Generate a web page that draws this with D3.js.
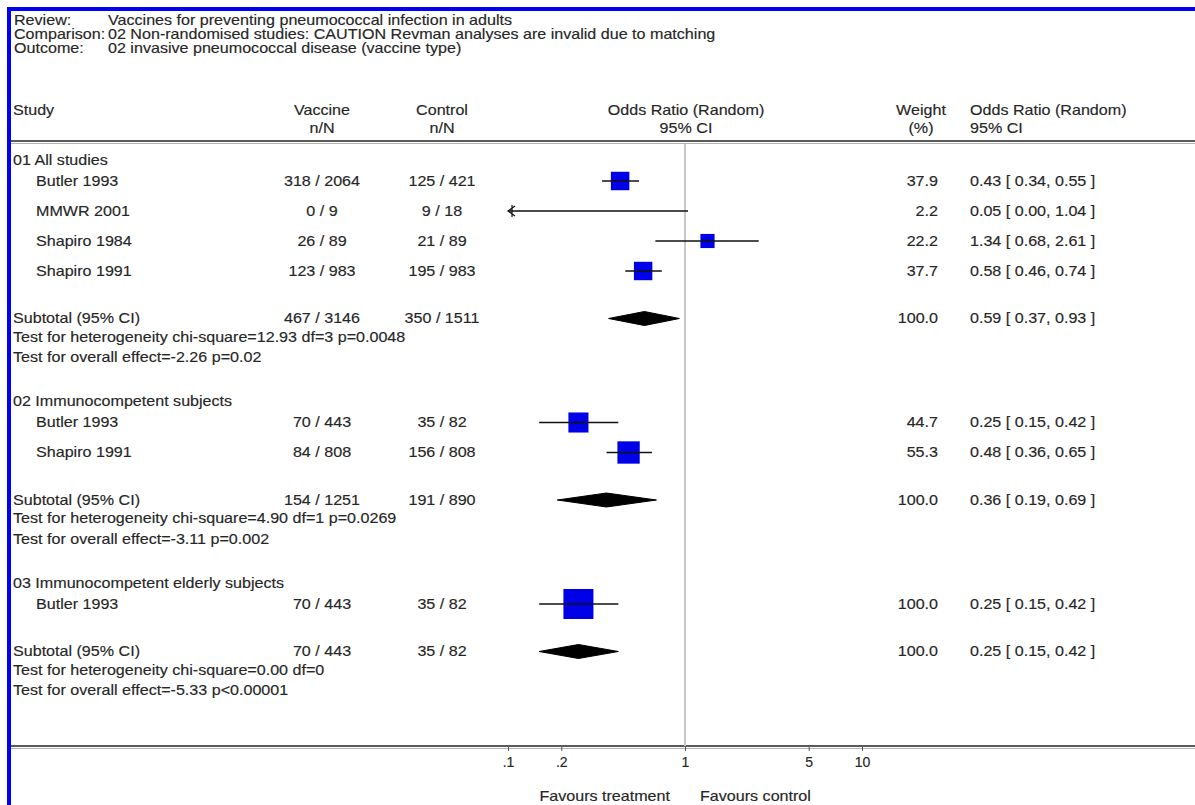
<!DOCTYPE html>
<html>
<head>
<meta charset="utf-8">
<script src="https://cdn.jsdelivr.net/npm/d3@7"></script>
<style>
  html, body { margin: 0; padding: 0; background: #fff; }
  svg text { font-family: "Liberation Sans", Arial, sans-serif; font-size: 14px; fill: #262626; stroke: #262626; stroke-width: 0.15px; }
</style>
</head>
<body>
<svg id="forest"></svg>
<script>
// review header
const headerLabels = ['Review:', 'Comparison:', 'Outcome:'];
const headerValues = [
    'Vaccines for preventing pneumococcal infection in adults',
    '02 Non-randomised studies: CAUTION Revman analyses are invalid due to matching',
    '02 invasive pneumococcal disease (vaccine type)'
];

// column headings
const columnTitles = ['Study', 'Vaccine', 'Control', 'Odds Ratio (Random)', 'Weight', 'Odds Ratio (Random)'];
const columnSubtitles = ['', 'n/N', 'n/N', '95% CI', '(%)', '95% CI'];

// subgroups
const groupNames = ['01 All studies', '02 Immunocompetent subjects', '03 Immunocompetent elderly subjects'];

// studies
const studyGroup = [0, 0, 0, 0, 1, 1, 2];
const studyNames = ['Butler 1993', 'MMWR 2001', 'Shapiro 1984', 'Shapiro 1991', 'Butler 1993', 'Shapiro 1991', 'Butler 1993'];
const vaccineEvents = [318, 0, 26, 123, 70, 84, 70];
const vaccineTotal = [2064, 9, 89, 983, 443, 808, 443];
const controlEvents = [125, 9, 21, 195, 35, 156, 35];
const controlTotal = [421, 18, 89, 983, 82, 808, 82];
const studyOR = [0.43, 0.05, 1.34, 0.58, 0.25, 0.48, 0.25];
const studyLower = [0.34, 0.00, 0.68, 0.46, 0.15, 0.36, 0.15];
const studyUpper = [0.55, 1.04, 2.61, 0.74, 0.42, 0.65, 0.42];
const studyWeight = [37.9, 2.2, 22.2, 37.7, 44.7, 55.3, 100.0];

// subtotals
const subVaccineEvents = [467, 154, 70];
const subVaccineTotal = [3146, 1251, 443];
const subControlEvents = [350, 191, 35];
const subControlTotal = [1511, 890, 82];
const subOR = [0.59, 0.36, 0.25];
const subLower = [0.37, 0.19, 0.15];
const subUpper = [0.93, 0.69, 0.42];
const subWeight = [100.0, 100.0, 100.0];
const heterogeneity = ['chi-square=12.93 df=3 p=0.0048', 'chi-square=4.90 df=1 p=0.0269', 'chi-square=0.00 df=0'];
const overallEffect = ['-2.26 p=0.02', '-3.11 p=0.002', '-5.33 p<0.00001'];

// axis
const tickValues = [0.1, 0.2, 1, 5, 10];
const tickLabels = ['.1', '.2', '1', '5', '10'];
const favoursLabels = ['Favours treatment', 'Favours control'];


class ForestPlot {

    constructor(_config) {
        this.config = {
            parentElement: _config.parentElement,
            containerWidth: 1195,
            containerHeight: 805,
            frameInset: 7,
            frameWidth: 4,
            frameColour: '#0000f2',
            textStretch: 1.15,
            cols: {
                left: 13,
                study: 36,
                vaccine: 322,
                control: 442,
                plot: 686,
                weightHead: 921,
                weightRight: 938,
                orText: 970
            },
            plotRange: [508, 862],
            headerTop: 20,
            headerStep: 14,
            titleY: 110,
            subtitleY: 128,
            tableTop: 141,
            axisY: 746,
            rows: {
                firstHead: 160,
                headToStudy: 21,
                pitch: 30,
                studyToSub: 47.5,
                subToHet: 18.5,
                hetToOverall: 20.5,
                overallToHead: 44
            },
            boxColour: '#0000e8',
            boxScale: 3,
            diamondHalf: 7
        }

        this.initVis();
    }

    // text is drawn a little wider than the font, like the old bitmap output
    label(parent, x, y, str, anchor = 'start') {
        let vis = this;
        return parent.append('text')
            .attr('transform', `translate(${x},${y}) scale(${vis.config.textStretch},1)`)
            .attr('text-anchor', anchor)
            .attr('dy', '0.35em')
            .text(str);
    }

    initVis() {
        let vis = this;
        let c = vis.config;

        vis.svg = d3.select(c.parentElement)
            .attr('width', c.containerWidth)
            .attr('height', c.containerHeight);

        vis.svg.append('rect')
            .attr('width', c.containerWidth)
            .attr('height', c.containerHeight)
            .attr('fill', '#fff');

        vis.xScale = d3.scaleLog()
            .domain([tickValues[0], tickValues[tickValues.length - 1]])
            .range(c.plotRange);

        let fmt2 = d3.format('.2f');
        let fmt1 = d3.format('.1f');

        // blue window frame (top and left only)
        vis.svg.append('rect')
            .attr('x', c.frameInset).attr('y', c.frameInset)
            .attr('width', c.containerWidth - c.frameInset)
            .attr('height', c.frameWidth)
            .attr('fill', c.frameColour);
        vis.svg.append('rect')
            .attr('x', c.frameInset).attr('y', c.frameInset)
            .attr('width', c.frameWidth)
            .attr('height', c.containerHeight - c.frameInset)
            .attr('fill', c.frameColour);

        let textG = vis.svg.append('g').attr('class', 'texts');

        // review / comparison / outcome
        headerLabels.forEach((h, i) => {
            let y = c.headerTop + i * c.headerStep;
            vis.label(textG, 14, y, h);
            vis.label(textG, 108, y, headerValues[i]);
        });

        // column headings
        let titleX = [c.cols.left, c.cols.vaccine, c.cols.control, c.cols.plot, c.cols.weightHead, c.cols.orText];
        let titleAnchor = ['start', 'middle', 'middle', 'middle', 'middle', 'start'];
        columnTitles.forEach((t, i) => {
            vis.label(textG, titleX[i], c.titleY, t, titleAnchor[i]);
            if (columnSubtitles[i]) vis.label(textG, titleX[i], c.subtitleY, columnSubtitles[i], titleAnchor[i]);
        });

        // etched separator lines
        [c.tableTop, c.axisY].forEach(y => {
            vis.svg.append('line')
                .attr('x1', c.frameInset + c.frameWidth).attr('x2', c.containerWidth)
                .attr('y1', y).attr('y2', y)
                .attr('stroke', '#5a5a5a').attr('stroke-width', 2);
            vis.svg.append('line')
                .attr('x1', c.frameInset + c.frameWidth).attr('x2', c.containerWidth)
                .attr('y1', y + 2.5).attr('y2', y + 2.5)
                .attr('stroke', '#b4b4b4').attr('stroke-width', 1);
        });

        // line of no effect
        vis.svg.append('line')
            .attr('x1', vis.xScale(1)).attr('x2', vis.xScale(1))
            .attr('y1', c.tableTop + 3).attr('y2', c.axisY)
            .attr('stroke', '#c8c8c8').attr('stroke-width', 2);

        let markG = vis.svg.append('g').attr('class', 'marks');

        // walk down the table
        let r = c.rows;
        let y = r.firstHead;
        groupNames.forEach((groupName, g) => {
            vis.label(textG, c.cols.left, y, groupName);
            y += r.headToStudy;

            let members = studyGroup.map((sg, i) => sg === g ? i : -1).filter(i => i >= 0);
            members.forEach((i, k) => {
                if (k > 0) y += r.pitch;
                vis.label(textG, c.cols.study, y, studyNames[i]);
                vis.label(textG, c.cols.vaccine, y, `${vaccineEvents[i]} / ${vaccineTotal[i]}`, 'middle');
                vis.label(textG, c.cols.control, y, `${controlEvents[i]} / ${controlTotal[i]}`, 'middle');
                vis.label(textG, c.cols.weightRight, y, fmt1(studyWeight[i]), 'end');
                vis.label(textG, c.cols.orText, y,
                    `${fmt2(studyOR[i])} [ ${fmt2(studyLower[i])}, ${fmt2(studyUpper[i])} ]`);
                vis.drawStudy(markG, i, y);
            });

            y += r.studyToSub;
            vis.label(textG, c.cols.left, y, 'Subtotal (95% CI)');
            vis.label(textG, c.cols.vaccine, y, `${subVaccineEvents[g]} / ${subVaccineTotal[g]}`, 'middle');
            vis.label(textG, c.cols.control, y, `${subControlEvents[g]} / ${subControlTotal[g]}`, 'middle');
            vis.label(textG, c.cols.weightRight, y, fmt1(subWeight[g]), 'end');
            vis.label(textG, c.cols.orText, y,
                `${fmt2(subOR[g])} [ ${fmt2(subLower[g])}, ${fmt2(subUpper[g])} ]`);

            let d = c.diamondHalf;
            markG.append('path')
                .attr('d', `M${vis.xScale(subLower[g])},${y} L${vis.xScale(subOR[g])},${y - d} ` +
                    `L${vis.xScale(subUpper[g])},${y} L${vis.xScale(subOR[g])},${y + d} Z`)
                .attr('fill', '#000')
                .attr('stroke', '#000').attr('stroke-width', 1).attr('stroke-linejoin', 'round');

            y += r.subToHet;
            vis.label(textG, c.cols.left, y, 'Test for heterogeneity ' + heterogeneity[g]);
            y += r.hetToOverall;
            vis.label(textG, c.cols.left, y, 'Test for overall effect=' + overallEffect[g]);
            y += r.overallToHead;
        });

        // bottom axis
        vis.xAxis = d3.axisBottom(vis.xScale)
            .tickValues(tickValues)
            .tickFormat((d, i) => tickLabels[i])
            .tickSize(4)
            .tickPadding(6);

        vis.xAxisG = vis.svg.append('g')
            .attr('class', 'x-axis')
            .attr('transform', `translate(0,${c.axisY + 1})`)
            .attr('color', '#555')
            .call(vis.xAxis);
        vis.xAxisG.select('.domain').remove();

        vis.label(textG, vis.xScale(1) - 15, 796, favoursLabels[0], 'end');
        vis.label(textG, vis.xScale(1) + 15, 796, favoursLabels[1], 'start');
    }

    // square sized by weight, CI whisker, arrow when CI runs off the scale
    drawStudy(parent, i, y) {
        let vis = this;
        let c = vis.config;
        let [lo, hi] = vis.xScale.domain();

        let or = studyOR[i];
        if (or >= lo && or <= hi) {
            let side = c.boxScale * Math.sqrt(studyWeight[i]);
            parent.append('rect')
                .attr('x', vis.xScale(or) - side / 2)
                .attr('y', y - side / 2)
                .attr('width', side)
                .attr('height', side)
                .attr('fill', c.boxColour);
        }

        let x1 = vis.xScale(Math.max(studyLower[i], lo));
        let x2 = vis.xScale(Math.min(studyUpper[i], hi));
        parent.append('line')
            .attr('x1', x1).attr('x2', x2)
            .attr('y1', y).attr('y2', y)
            .attr('stroke', '#111').attr('stroke-width', 1.5);

        if (studyLower[i] < lo) {
            parent.append('path')
                .attr('d', `M${x1 + 7},${y - 5} L${x1},${y} L${x1 + 7},${y + 5} M${x1 + 4},${y - 6} L${x1 + 4},${y + 6}`)
                .attr('fill', 'none')
                .attr('stroke', '#111').attr('stroke-width', 1.2);
        }
        if (studyUpper[i] > hi) {
            parent.append('path')
                .attr('d', `M${x2 - 7},${y - 5} L${x2},${y} L${x2 - 7},${y + 5}`)
                .attr('fill', 'none')
                .attr('stroke', '#111').attr('stroke-width', 1.2);
        }
    }
}

let forest = new ForestPlot({ parentElement: '#forest' });
</script>
</body>
</html>
